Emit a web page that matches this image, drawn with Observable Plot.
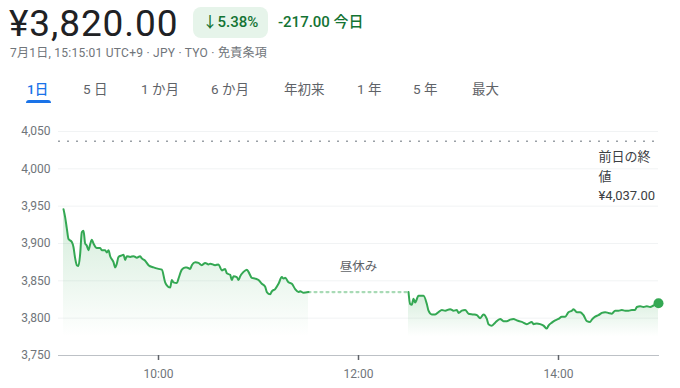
<!DOCTYPE html>
<html><head><meta charset="utf-8">
<script src="https://cdn.jsdelivr.net/npm/d3@7"></script>
<script src="https://cdn.jsdelivr.net/npm/@observablehq/plot@0.6"></script>
<style>
body{margin:0;background:#fff;font-family:Roboto,"Noto Sans CJK JP",sans-serif;width:680px;height:388px;overflow:hidden;position:relative}
.abs{position:absolute;white-space:nowrap}
.tab{position:absolute;top:80px;line-height:18px;font-size:13.5px;color:#5f6368;white-space:nowrap}
#chart{position:absolute;left:0;top:110px}
</style></head><body>
<div class="abs" style="left:9px;top:5px;font-size:37px;line-height:37px;letter-spacing:0.9px;color:#202124;">¥3,820.00</div>
<div class="abs" style="left:193px;top:7px;width:75px;height:31px;border-radius:8px;background:#e6f4ea;color:#137333;font-size:15px;font-weight:500;line-height:31px;text-align:center;">↓5.38%</div>
<div class="abs" style="left:278px;top:7px;line-height:31px;font-size:15px;font-weight:500;color:#137333;">-217.00 今日</div>
<div class="abs" style="left:10px;top:45px;line-height:16px;font-size:12px;letter-spacing:0.25px;color:#70757a;">7月1日, 15:15:01 UTC+9 · JPY · TYO · 免責条項</div>
<div id="tabs"></div>
<div class="abs" style="left:26px;top:100px;width:25px;height:3px;background:#1a73e8;border-radius:3px 3px 0 0;"></div>
<div id="chart"></div>
<script>
// ---- data ----
const tabLabels = ["1日","5 日","1 か月","6 か月","年初来","1 年","5 年","最大"];
const prevClose = 4037;
const yTicks = [3750,3800,3850,3900,3950,4000,4050];
const xTicks = ["10:00","12:00","14:00"];
const lunchLabel = "昼休み";
const prevCloseLabel = "前日の終\n値\n¥4,037.00";
const amTimes = ["09:03","09:04","09:05","09:06","09:08","09:09","09:10","09:11","09:12","09:13","09:14","09:15","09:16","09:17","09:18","09:19","09:20","09:21","09:23","09:25","09:26","09:28","09:29","09:30","09:31","09:33","09:34","09:35","09:36","09:38","09:39","09:40","09:41","09:43","09:45","09:47","09:49","09:50","09:52","09:54","09:57","10:00","10:02","10:04","10:05","10:07","10:08","10:09","10:11","10:12","10:14","10:16","10:17","10:19","10:20","10:22","10:24","10:26","10:28","10:30","10:31","10:34","10:36","10:38","10:40","10:41","10:43","10:44","10:45","10:47","10:48","10:49","10:51","10:53","10:54","10:56","10:58","11:00","11:02","11:04","11:05","11:07","11:08","11:10","11:12","11:14","11:15","11:16","11:18","11:20","11:22","11:24","11:25","11:27","11:30"];
const amPrices = [3946,3935,3920,3906,3902,3895,3880,3871,3870,3886,3915,3917,3900,3897,3891,3899,3905,3900,3894,3894,3891,3891,3888,3891,3883,3875,3868,3873,3882,3884,3885,3878,3883,3882,3883,3881,3883,3880,3877,3871,3868,3866,3865,3848,3844,3841,3851,3848,3847,3853,3865,3868,3868,3866,3871,3875,3874,3871,3874,3872,3873,3871,3872,3864,3866,3860,3858,3851,3856,3855,3851,3856,3862,3865,3862,3854,3853,3851,3846,3842,3835,3832,3836,3839,3846,3855,3853,3854,3848,3846,3839,3835,3836,3834,3835];
const pmTimes = ["12:30","12:31","12:32","12:33","12:34","12:36","12:37","12:39","12:41","12:42","12:44","12:46","12:48","12:50","12:52","12:55","12:57","12:59","13:00","13:02","13:04","13:06","13:09","13:11","13:13","13:15","13:17","13:18","13:20","13:22","13:25","13:27","13:29","13:31","13:33","13:35","13:38","13:41","13:44","13:45","13:47","13:49","13:51","13:53","13:54","13:56","13:58","14:00","14:02","14:04","14:06","14:08","14:09","14:11","14:13","14:15","14:17","14:19","14:20","14:22","14:24","14:26","14:28","14:30","14:32","14:34","14:36","14:38","14:40","14:42","14:44","14:46","14:47","14:49","14:51","14:53","14:55","14:57","15:00"];
const pmPrices = [3835,3819,3818,3826,3821,3830,3830,3830,3819,3810,3805,3805,3808,3811,3810,3812,3810,3811,3807,3810,3811,3806,3805,3804,3800,3805,3799,3792,3790,3794,3799,3796,3796,3798,3799,3797,3795,3792,3795,3792,3793,3792,3790,3786,3790,3794,3797,3799,3802,3802,3808,3810,3812,3808,3808,3804,3796,3795,3798,3802,3804,3807,3808,3807,3806,3810,3810,3811,3810,3810,3811,3811,3815,3816,3815,3816,3815,3817,3820];

// ---- tabs ----
const tabLeft = [27,83,141,211,284,357,413,472];
const tabs = document.getElementById("tabs");
tabLabels.forEach((t,i)=>{
  const d = document.createElement("div");
  d.className = "tab"; d.textContent = t; d.style.left = tabLeft[i]+"px";
  if (i===0){ d.style.color="#1a73e8"; d.style.fontWeight="500"; }
  tabs.appendChild(d);
});

// ---- chart ----
const toDate = s => { const [h,m] = s.split(":").map(Number); return new Date(2024,6,1,h,m); };
const am = amTimes.map((t,i)=>({t:toDate(t), p:amPrices[i]}));
const pm = pmTimes.map((t,i)=>({t:toDate(t), p:pmPrices[i]}));
const lunch = [am[am.length-1], {t:pm[0].t, p:am[am.length-1].p}];
const last = pm[pm.length-1];
const floor = yTicks[0];

const chart = Plot.plot({
  width:680, height:278, marginLeft:58, marginRight:22, marginTop:21, marginBottom:33,
  style:{fontFamily:'Roboto,"Noto Sans CJK JP",sans-serif', fontSize:"12px", color:"#70757a", background:"transparent", overflow:"visible"},
  x:{type:"time", domain:[toDate("09:00"), toDate("15:00")]},
  y:{domain:[yTicks[0], yTicks[yTicks.length-1]]},
  marks:[
    Plot.ruleY(yTicks.slice(1), {stroke:"#f1f3f4", strokeWidth:1}),
    Plot.axisY({ticks:yTicks, tickSize:0, tickPadding:8, tickFormat:d3.format(","), fill:"#70757a", label:null}),
    Plot.areaY(am, {x:"t", y1:floor+25, y2:"p", fill:"url(#fadeGreen)", curve:"monotone-x"}),
    Plot.areaY(pm, {x:"t", y1:floor+25, y2:"p", fill:"url(#fadeGreen)", curve:"monotone-x"}),
    Plot.ruleY([prevClose], {stroke:"#9aa0a6", strokeDasharray:"2,7", strokeWidth:1.5}),
    Plot.line(lunch, {x:"t", y:"p", stroke:"#a8dab5", strokeWidth:2.2, strokeDasharray:"2,4"}),
    Plot.line(am, {x:"t", y:"p", stroke:"#34a853", strokeWidth:2, curve:"monotone-x"}),
    Plot.line(pm, {x:"t", y:"p", stroke:"#34a853", strokeWidth:2, curve:"monotone-x"}),
    Plot.dot([last], {x:"t", y:"p", r:5, fill:"#34a853"}),
    Plot.frame({anchor:"bottom", stroke:"#bdc1c6"}),
    Plot.axisX({ticks:xTicks.map(toDate), tickFormat:d3.timeFormat("%H:%M"), tickSize:5, tickPadding:9, stroke:"#5f6368", strokeWidth:1.5, fill:"#70757a", label:null}),
    Plot.text([lunchLabel], {x:()=>toDate("12:00"), y:()=>3868, text:d=>d, fill:"#5f6368", fontSize:12.5}),
    Plot.text([prevCloseLabel], {x:()=>toDate("14:24"), y:()=>3992.5, text:d=>d, textAnchor:"start", lineAnchor:"middle", lineHeight:1.5, fill:"#3c4043", fontSize:13})
  ]
});
d3.select(chart).insert("defs", ":first-child").html(
  '<linearGradient id="fadeGreen" x1="0" y1="0" x2="0" y2="1">' +
  '<stop offset="0" stop-color="#34a853" stop-opacity="0.22"/>' +
  '<stop offset="1" stop-color="#34a853" stop-opacity="0"/></linearGradient>');
document.getElementById("chart").appendChild(chart);
</script>
</body></html>
